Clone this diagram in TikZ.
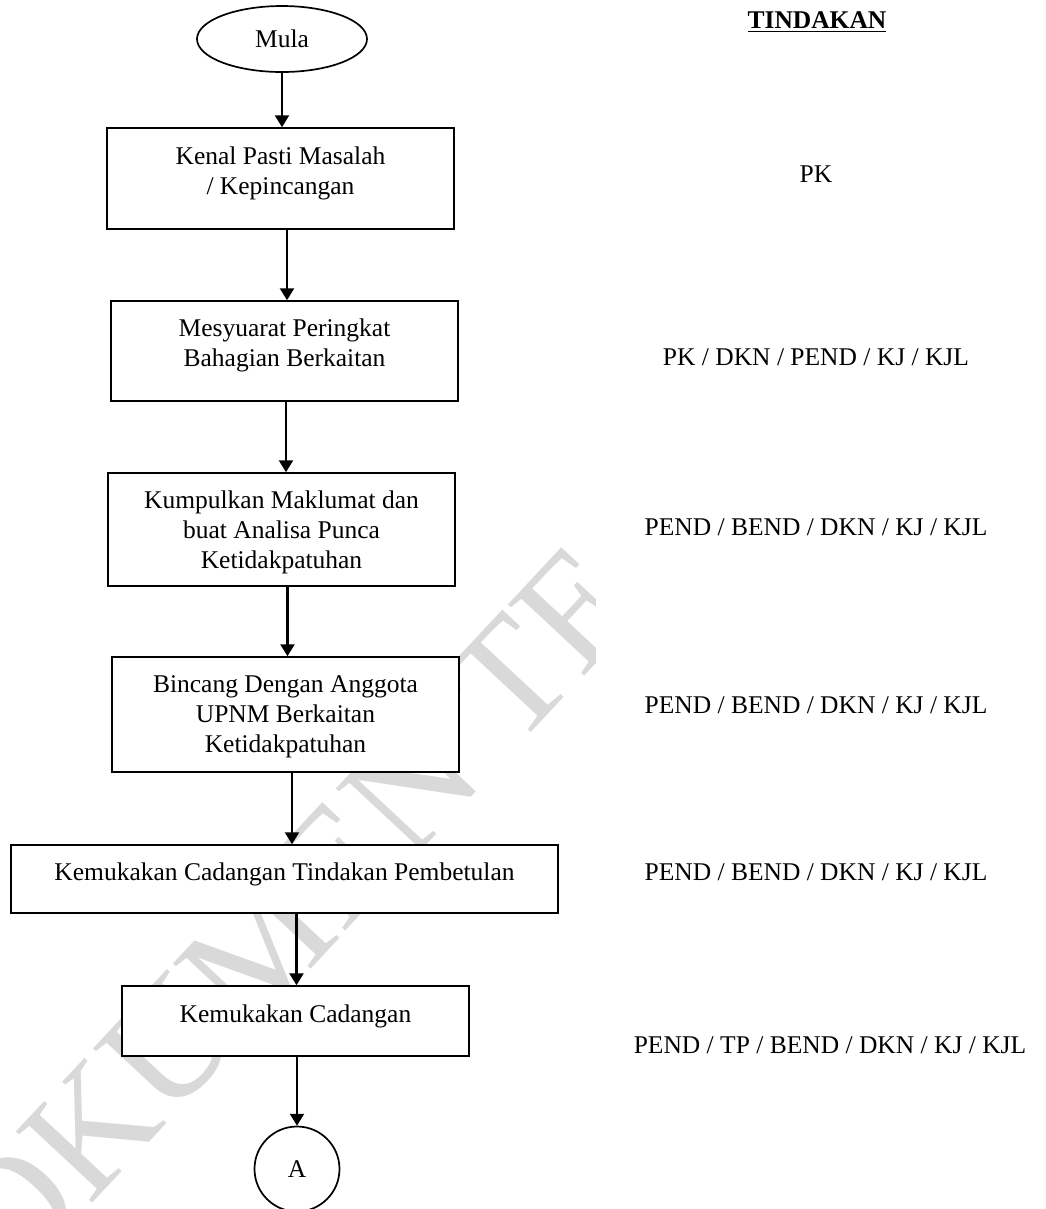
\documentclass[tikz,border=0pt]{standalone}
\usepackage{fontspec}
\setmainfont{Liberation Serif}
\usetikzlibrary{shapes.geometric,arrows.meta}
\begin{document}
\begin{tikzpicture}[x=0.4706pt,y=-0.4706pt,
  procbox/.style={draw, line width=0.75pt, fill=white, rectangle, inner sep=0pt},
  termnode/.style={draw, line width=0.8pt, fill=white, inner sep=0pt, font=\fontsize{12}{14.1}\selectfont},
  txt/.style={font=\fontsize{12}{14.1}\selectfont, align=center, inner sep=0pt},
  act/.style={font=\fontsize{12}{14.1}\selectfont, inner sep=0pt, anchor=base},
  arr/.style={line width=1pt, -{Triangle[length=5.6pt,width=6.6pt]}},
  wmark/.style={font=\fontsize{75}{80}\selectfont, text=black!15, inner sep=0pt}]
\useasboundingbox (0,0) rectangle (1045,1209);
\fill[white] (0,0) rectangle (1045,1209);

% watermark (only its visible part)
\begin{scope}
  \clip (0,0) rectangle (595,1209);
  \node[wmark, rotate=47] (wm) at (252,956) {DOKUMEN TE};
\end{scope}

% flow nodes
\node[termnode, ellipse, minimum width={170*0.4706pt}, minimum height={66*0.4706pt}] (mula) at (282,39) {Mula};

\node[procbox, minimum width={347*0.4706pt}, minimum height={101*0.4706pt}] (b1) at (280.5,178.5) {};
\node[txt] (b1t) at (280.5,173) {Kenal Pasti Masalah\\/ Kepincangan};

\node[procbox, minimum width={347*0.4706pt}, minimum height={100*0.4706pt}] (b2) at (284.5,351) {};
\node[txt] (b2t) at (284.5,345.5) {Mesyuarat Peringkat\\Bahagian Berkaitan};

\node[procbox, minimum width={347*0.4706pt}, minimum height={113*0.4706pt}] (b3) at (281.5,529.5) {};
\node[txt] (b3t) at (281.5,532) {Kumpulkan Maklumat dan\\buat Analisa Punca\\Ketidakpatuhan};

\node[procbox, minimum width={347*0.4706pt}, minimum height={115*0.4706pt}] (b4) at (285.5,714.5) {};
\node[txt] (b4t) at (285.5,717) {Bincang Dengan Anggota\\UPNM Berkaitan\\Ketidakpatuhan};

\node[procbox, minimum width={547*0.4706pt}, minimum height={68*0.4706pt}] (b5) at (284.5,879) {};
\node[txt] (b5t) at (284.5,874) {Kemukakan Cadangan Tindakan Pembetulan};

\node[procbox, minimum width={347*0.4706pt}, minimum height={70*0.4706pt}] (b6) at (295.5,1021) {};
\node[txt] (b6t) at (295.5,1016) {Kemukakan Cadangan};

\node[termnode, circle, minimum size={85*0.4706pt}] (conA) at (297,1169) {A};

% connectors
\draw[arr] (mula.south) -- (mula.south |- b1.north);
\draw[arr] ([xshift=3.06pt]b1.south) -- ([xshift=3.06pt]b1.south |- b2.north);
\draw[arr] ([xshift=0.7pt]b2.south) -- ([xshift=0.7pt]b2.south |- b3.north);
\draw[arr] ([xshift=2.82pt]b3.south) -- ([xshift=2.82pt]b3.south |- b4.north);
\draw[arr] ([xshift=3.06pt]b4.south) -- ([xshift=3.06pt]b4.south |- b5.north);
\draw[arr] ([xshift=5.65pt]b5.south) -- ([xshift=5.65pt]b5.south |- b6.north);
\draw[arr] (conA.north |- b6.south) -- (conA.north);

% action column
\node[act] (hdr) at (817,28) {\textbf{\underline{TINDAKAN}}};
\node[act] (t1) at (816,182) {PK};
\node[act] (t2) at (816,365) {PK / DKN / PEND / KJ / KJL};
\node[act] (t3) at (816,535) {PEND / BEND / DKN / KJ / KJL};
\node[act] (t4) at (816,713) {PEND / BEND / DKN / KJ / KJL};
\node[act] (t5) at (816,880) {PEND / BEND / DKN / KJ / KJL};
\node[act] (t6) at (830,1053) {PEND / TP / BEND / DKN / KJ / KJL};
\end{tikzpicture}
\end{document}
